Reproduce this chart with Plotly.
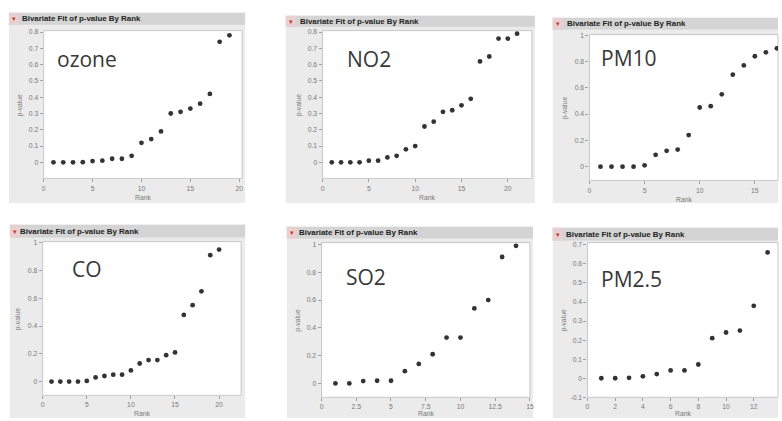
import plotly.graph_objects as go

W, H = 782, 421

# ---------------- data ----------------
ozone_rank = [1, 2, 3, 4, 5, 6, 7, 8, 9, 10, 11, 12, 13, 14, 15, 16, 17, 18, 19]
ozone_p = [0.0, 0.0, 0.0, 0.001, 0.008, 0.01, 0.022, 0.022, 0.04, 0.12, 0.143, 0.19,
           0.30, 0.31, 0.33, 0.36, 0.42, 0.74, 0.78]

no2_rank = [1, 2, 3, 4, 5, 6, 7, 8, 9, 10, 11, 12, 13, 14, 15, 16, 17, 18, 19, 20, 21]
no2_p = [0.0, 0.0, 0.0, 0.0, 0.01, 0.01, 0.03, 0.04, 0.08, 0.10, 0.22, 0.25,
         0.31, 0.32, 0.35, 0.39, 0.62, 0.65, 0.76, 0.76, 0.79]

pm10_rank = [1, 2, 3, 4, 5, 6, 7, 8, 9, 10, 11, 12, 13, 14, 15, 16, 17]
pm10_p = [0.0, 0.0, 0.0, 0.0, 0.01, 0.09, 0.12, 0.13, 0.24, 0.45, 0.46, 0.55,
          0.70, 0.77, 0.84, 0.87, 0.90]

co_rank = [1, 2, 3, 4, 5, 6, 7, 8, 9, 10, 11, 12, 13, 14, 15, 16, 17, 18, 19, 20]
co_p = [0.0, 0.0, 0.0, 0.0, 0.005, 0.03, 0.04, 0.05, 0.05, 0.08, 0.13, 0.155,
        0.155, 0.19, 0.21, 0.48, 0.55, 0.65, 0.91, 0.95]

so2_rank = [1, 2, 3, 4, 5, 6, 7, 8, 9, 10, 11, 12, 13, 14]
so2_p = [0.0, 0.0, 0.017, 0.019, 0.019, 0.088, 0.14, 0.21, 0.33, 0.33, 0.54, 0.60,
         0.91, 0.99]

pm25_rank = [1, 2, 3, 4, 5, 6, 7, 8, 9, 10, 11, 12, 13]
pm25_p = [0.0, 0.0, 0.002, 0.01, 0.022, 0.041, 0.041, 0.072, 0.21, 0.24, 0.25,
          0.38, 0.66]

panel_labels = ["ozone", "NO2", "PM10", "CO", "SO2", "PM2.5"]
header_text = "Bivariate Fit of p-value By Rank"
x_title = "Rank"
y_title = "p-value"

ozone_xticks = [0, 5, 10, 15, 20]
no2_xticks = [0, 5, 10, 15, 20]
pm10_xticks = [0, 5, 10, 15]
co_xticks = [0, 5, 10, 15, 20]
so2_xticks = [0, 2.5, 5, 7.5, 10, 12.5, 15]
pm25_xticks = [0, 2, 4, 6, 8, 10, 12]

ozone_yticks = [-0.1, 0, 0.1, 0.2, 0.3, 0.4, 0.5, 0.6, 0.7, 0.8]
no2_yticks = [-0.1, 0, 0.1, 0.2, 0.3, 0.4, 0.5, 0.6, 0.7, 0.8]
pm10_yticks = [0, 0.2, 0.4, 0.6, 0.8, 1]
co_yticks = [0, 0.2, 0.4, 0.6, 0.8, 1]
so2_yticks = [0, 0.2, 0.4, 0.6, 0.8, 1]
pm25_yticks = [-0.1, 0, 0.1, 0.2, 0.3, 0.4, 0.5, 0.6, 0.7]

# ---------------- layout geometry (pixels) ----------------
panels = [
    dict(x=ozone_rank, y=ozone_p, xt=ozone_xticks, yt=ozone_yticks,
         frame=(7, 245, 10, 203), header=(10, 22), plot=(42, 242, 28, 178),
         xr=[0, 20.3], yr=[-0.099, 0.809], lab=(53, 57), htx=(18, 16)),
    dict(x=no2_rank, y=no2_p, xt=no2_xticks, yt=no2_yticks,
         frame=(286, 537, 13, 203), header=(13, 24), plot=(323, 534, 28, 178),
         xr=[0, 22.6], yr=[-0.099, 0.809], lab=(346, 57), htx=(298, 18.5)),
    dict(x=pm10_rank, y=pm10_p, xt=pm10_xticks, yt=pm10_yticks,
         frame=(555, 782, 15, 203), header=(15, 27), plot=(592, 782, 32, 180),
         xr=[0, 17.1], yr=[-0.105, 1.005], lab=(602, 56), htx=(567, 21)),
    dict(x=co_rank, y=co_p, xt=co_xticks, yt=co_yticks,
         frame=(8, 245, 225, 421), header=(225, 238), plot=(41, 241, 242, 398),
         xr=[0, 22.5], yr=[-0.099, 1.008], lab=(69, 270), htx=(16, 231.5)),
    dict(x=so2_rank, y=so2_p, xt=so2_xticks, yt=so2_yticks,
         frame=(287, 535, 227, 421), header=(227, 239), plot=(322, 532, 243, 400),
         xr=[0, 15], yr=[-0.1, 1.014], lab=(345, 278), htx=(297, 233)),
    dict(x=pm25_rank, y=pm25_p, xt=pm25_xticks, yt=pm25_yticks,
         frame=(555, 782, 228, 421), header=(228, 241), plot=(590, 782, 243, 400),
         xr=[0, 13.75], yr=[-0.1, 0.712], lab=(602, 280), htx=(566, 234.5)),
]


def px(x):
    return x / W


def py(y):
    return 1 - y / H


def fmt(v):
    return "%g" % v


fig = go.Figure()
shapes = []
annotations = []
tick_font = dict(family="Liberation Sans, Arial, sans-serif", size=6.8, color="#7a7a7a")

for i, p in enumerate(panels):
    k = "" if i == 0 else str(i + 1)
    fl, fr, ft, fb = p["frame"]
    ht, hb = p["header"]
    pl, pr, pt, pb = p["plot"]

    shapes.append(dict(type="rect", xref="paper", yref="paper",
                       x0=px(fl), x1=px(fr), y0=py(fb), y1=py(ft),
                       fillcolor="#ebebeb", line=dict(width=0), layer="below"))
    shapes.append(dict(type="rect", xref="paper", yref="paper",
                       x0=px(fl), x1=px(fr), y0=py(hb), y1=py(ht),
                       fillcolor="#d4d4d4", line=dict(width=0), layer="below"))
    shapes.append(dict(type="rect", xref="paper", yref="paper",
                       x0=px(fl), x1=px(fl + 10), y0=py(hb), y1=py(ht),
                       fillcolor="#e9cfd0", line=dict(width=0), layer="below"))
    shapes.append(dict(type="rect", xref="paper", yref="paper",
                       x0=px(pl), x1=px(min(pr, W)), y0=py(pb), y1=py(pt),
                       fillcolor="#ffffff", line=dict(color="#c8c8c8", width=1),
                       layer="below"))

    annotations.append(dict(xref="paper", yref="paper", x=px(fl + 5), y=py(p["htx"][1]),
                            text="▾", showarrow=False, xanchor="center", yanchor="middle",
                            font=dict(size=7, color="#c0392b")))
    annotations.append(dict(xref="paper", yref="paper", x=px(p["htx"][0]), y=py(p["htx"][1]),
                            text="<b>" + header_text + "</b>", showarrow=False,
                            xanchor="left", yanchor="middle",
                            font=dict(family="Liberation Sans, Arial, sans-serif",
                                      size=7.9, color="#222222")))
    annotations.append(dict(xref="paper", yref="paper", x=px(p["lab"][0]), y=py(p["lab"][1]),
                            text=panel_labels[i], showarrow=False,
                            xanchor="left", yanchor="middle",
                            font=dict(family="Open Sans, sans-serif", size=21, color="#383838")))
    annotations.append(dict(xref="paper", yref="paper", x=px((pl + min(pr, W)) / 2),
                            y=py(min(pb + 19, 416)), text=x_title, showarrow=False,
                            xanchor="center", yanchor="middle", font=tick_font))
    annotations.append(dict(xref="paper", yref="paper", x=px(pl - 24), y=py((pt + pb) / 2),
                            text=y_title, showarrow=False, textangle=-90,
                            xanchor="center", yanchor="middle", font=tick_font))

    fig.add_trace(go.Scatter(
        x=p["x"], y=p["y"], mode="markers",
        marker=dict(symbol="circle", size=4.8, color="#333333"),
        xaxis="x" + k, yaxis="y" + k, showlegend=False, hoverinfo="x+y"))

    fig.layout["xaxis" + k] = dict(
        domain=[px(pl), px(min(pr, W))], range=p["xr"], anchor="y" + k,
        tickmode="array", tickvals=p["xt"], ticktext=[fmt(v) for v in p["xt"]],
        ticks="outside", ticklen=3, tickcolor="#a0a0a0", tickfont=tick_font,
        showgrid=False, zeroline=False, showline=False, fixedrange=True)
    fig.layout["yaxis" + k] = dict(
        domain=[py(pb), py(pt)], range=p["yr"], anchor="x" + k,
        tickmode="array", tickvals=p["yt"], ticktext=[fmt(v) for v in p["yt"]],
        ticks="outside", ticklen=3, tickcolor="#a0a0a0", tickfont=tick_font,
        showgrid=False, zeroline=False, showline=False, fixedrange=True)

fig.update_layout(
    width=W, height=H, margin=dict(l=0, r=0, t=0, b=0),
    paper_bgcolor="#ffffff", plot_bgcolor="rgba(0,0,0,0)",
    shapes=shapes, annotations=annotations, showlegend=False,
)

fig.write_html("out.html", config={"displayModeBar": False},
               post_script="document.body.style.margin='0';document.body.style.overflow='hidden';")
